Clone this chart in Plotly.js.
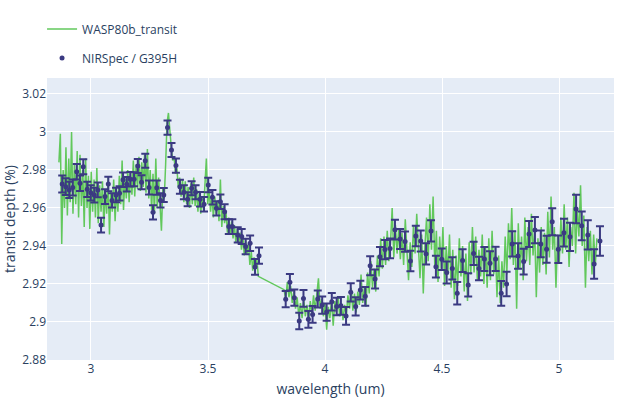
<!DOCTYPE html>
<html>
<head>
<meta charset="utf-8">
<script src="https://cdn.plot.ly/plotly-3.0.1.min.js"></script>
<style>
  html, body { margin: 0; padding: 0; background: #fff; }
  #chart { width: 630px; height: 398px; }
</style>
</head>
<body>
<div id="chart"></div>
<script>
// NIRSpec / G395H binned spectrum, NRS1 and NRS2
const wlNrs1 = [2.877,2.892,2.907,2.922,2.939,2.953,2.967,2.984,2.999,3.014,
  3.029,3.043,3.060,3.074,3.090,3.107,3.122,3.137,3.153,3.168,
  3.184,3.200,3.216,3.232,3.248,3.265,3.281,3.297,3.311,3.327,
  3.344,3.363,3.380,3.397,3.413,3.430,3.447,3.466,3.483,3.501,
  3.519,3.536,3.553,3.571,3.589,3.604,3.627,3.644,3.661,3.680,
  3.701,3.718];
const depthNrs1 = [2.9726,2.9712,2.9695,2.9708,2.9791,2.9730,2.9817,2.9698,2.9680,2.9668,
  2.9695,2.9510,2.9660,2.9726,2.9640,2.9668,2.9677,2.9749,2.9725,2.9751,
  2.9751,2.9821,2.9735,2.9849,2.9708,2.9577,2.9707,2.9640,2.9668,3.0023,
  2.9905,2.9823,2.9712,2.9683,2.9646,2.9704,2.9683,2.9646,2.9620,2.9721,
  2.9656,2.9598,2.9633,2.9580,2.9502,2.9502,2.9458,2.9450,2.9397,2.9414,
  2.9290,2.9349];
const errNrs1 = [0.0045,0.0044,0.0043,0.0042,0.0041,0.0041,0.0040,0.0040,0.0040,0.0039,
  0.0039,0.0039,0.0039,0.0038,0.0038,0.0038,0.0038,0.0038,0.0038,0.0038,
  0.0037,0.0037,0.0037,0.0037,0.0037,0.0037,0.0037,0.0037,0.0037,0.0037,
  0.0037,0.0037,0.0037,0.0037,0.0037,0.0037,0.0037,0.0038,0.0038,0.0038,
  0.0038,0.0038,0.0038,0.0039,0.0039,0.0039,0.0040,0.0040,0.0041,0.0041,
  0.0042,0.0043];

const wlNrs2 = [3.832,3.850,3.869,3.890,3.908,3.929,3.947,3.969,3.988,4.007,
  4.029,4.050,4.068,4.090,4.110,4.131,4.151,4.172,4.193,4.214,
  4.235,4.256,4.278,4.299,4.321,4.342,4.365,4.388,4.409,4.432,
  4.453,4.474,4.499,4.520,4.544,4.565,4.588,4.612,4.635,4.658,
  4.681,4.705,4.729,4.753,4.776,4.800,4.825,4.849,4.872,4.897,
  4.922,4.947,4.971,4.997,5.021,5.047,5.073,5.097,5.123,5.150,
  5.175];
const depthNrs2 = [2.9120,2.9209,2.9128,2.9005,2.9124,2.9014,2.9040,2.9121,2.9089,2.9052,
  2.9107,2.9081,2.9085,2.9032,2.9156,2.9082,2.9168,2.9135,2.9296,2.9226,
  2.9344,2.9381,2.9387,2.9486,2.9437,2.9423,2.9321,2.9453,2.9426,2.9358,
  2.9479,2.9291,2.9330,2.9260,2.9282,2.9151,2.9323,2.9195,2.9361,2.9282,
  2.9332,2.9309,2.9332,2.9151,2.9200,2.9411,2.9347,2.9318,2.9463,2.9484,
  2.9411,2.9383,2.9528,2.9383,2.9470,2.9448,2.9595,2.9506,2.9458,2.9305,
  2.9426];
const errNrs2 = [0.0043,0.0043,0.0043,0.0043,0.0044,0.0044,0.0044,0.0045,0.0045,0.0045,
  0.0046,0.0046,0.0047,0.0047,0.0048,0.0048,0.0049,0.0049,0.0050,0.0050,
  0.0051,0.0051,0.0052,0.0052,0.0053,0.0053,0.0054,0.0054,0.0055,0.0056,
  0.0056,0.0057,0.0057,0.0058,0.0059,0.0059,0.0060,0.0061,0.0061,0.0062,
  0.0063,0.0063,0.0064,0.0065,0.0065,0.0066,0.0067,0.0068,0.0068,0.0069,
  0.0070,0.0071,0.0071,0.0072,0.0073,0.0074,0.0075,0.0076,0.0077,0.0078,
  0.0078];

// WASP80b_transit, high resolution light curve fit
const modelWl1 = [2.863,2.869,2.875,2.881,2.887,2.893,2.899,2.905,2.911,2.917,
  2.923,2.929,2.935,2.941,2.947,2.953,2.959,2.965,2.971,2.977,
  2.983,2.989,2.995,3.001,3.007,3.013,3.019,3.025,3.031,3.037,
  3.043,3.049,3.055,3.061,3.067,3.073,3.079,3.085,3.091,3.097,
  3.103,3.109,3.115,3.121,3.127,3.133,3.139,3.145,3.151,3.157,
  3.163,3.169,3.175,3.181,3.187,3.193,3.199,3.205,3.211,3.217,
  3.223,3.229,3.235,3.241,3.247,3.253,3.259,3.265,3.271,3.277,
  3.283,3.289,3.295,3.301,3.307,3.313,3.319,3.325,3.331,3.337,
  3.343,3.349,3.355,3.361,3.367,3.373,3.379,3.385,3.391,3.397,
  3.403,3.409,3.415,3.421,3.427,3.433,3.439,3.445,3.451,3.457,
  3.463,3.469,3.475,3.481,3.487,3.493,3.499,3.505,3.511,3.517,
  3.523,3.529,3.535,3.541,3.547,3.553,3.559,3.565,3.571,3.577,
  3.583,3.589,3.595,3.601,3.607,3.613,3.619,3.625,3.631,3.637,
  3.643,3.649,3.655,3.661,3.667,3.673,3.679,3.685,3.691,3.697,
  3.703,3.709,3.715];
const modelDepth1 = [2.984,2.999,2.941,2.980,2.960,2.992,2.956,2.986,2.963,3.000,
  2.957,2.983,2.962,2.990,2.955,2.988,2.961,2.980,2.950,2.986,
  2.960,2.977,2.949,2.979,2.958,2.975,2.955,2.981,2.952,2.972,
  2.958,2.974,2.950,2.970,2.957,2.976,2.946,2.969,2.958,2.975,
  2.953,2.970,2.958,2.977,2.962,2.985,2.959,2.976,2.965,2.980,
  2.963,2.979,2.967,2.985,2.966,2.983,2.970,2.987,2.969,2.984,
  2.971,2.988,2.968,2.991,2.965,2.980,2.959,2.978,2.957,2.986,
  2.960,2.976,2.962,2.948,2.970,2.965,2.983,3.005,3.010,2.998,
  2.992,2.985,2.987,2.978,2.981,2.971,2.976,2.966,2.975,2.963,
  2.974,2.962,2.971,2.960,2.973,2.962,2.976,2.961,2.970,2.958,
  2.969,2.957,2.966,2.959,2.975,2.986,2.962,2.970,2.958,2.967,
  2.955,2.966,2.957,2.964,2.953,2.975,2.950,2.961,2.952,2.958,
  2.947,2.955,2.946,2.953,2.944,2.951,2.942,2.949,2.941,2.947,
  2.938,2.945,2.935,2.943,2.936,2.941,2.930,2.937,2.927,2.934,
  2.928,2.933,2.924];
const modelWl2 = [3.825,3.832,3.839,3.846,3.853,3.860,3.867,3.874,3.881,3.888,
  3.895,3.902,3.909,3.916,3.923,3.930,3.937,3.944,3.951,3.958,
  3.965,3.972,3.979,3.986,3.993,4.000,4.007,4.014,4.021,4.028,
  4.035,4.042,4.049,4.056,4.063,4.070,4.077,4.084,4.091,4.098,
  4.105,4.112,4.119,4.126,4.133,4.140,4.147,4.154,4.161,4.168,
  4.175,4.182,4.189,4.196,4.203,4.210,4.217,4.224,4.231,4.238,
  4.245,4.252,4.259,4.266,4.273,4.280,4.287,4.294,4.301,4.308,
  4.315,4.322,4.329,4.336,4.343,4.350,4.357,4.364,4.371,4.378,
  4.385,4.392,4.399,4.406,4.413,4.420,4.427,4.434,4.441,4.448,
  4.455,4.462,4.469,4.476,4.483,4.490,4.497,4.504,4.511,4.518,
  4.525,4.532,4.539,4.546,4.553,4.560,4.567,4.574,4.581,4.588,
  4.595,4.602,4.609,4.616,4.623,4.630,4.637,4.644,4.651,4.658,
  4.665,4.672,4.679,4.686,4.693,4.700,4.707,4.714,4.721,4.728,
  4.735,4.742,4.749,4.756,4.763,4.770,4.777,4.784,4.791,4.798,
  4.805,4.812,4.819,4.826,4.833,4.840,4.847,4.854,4.861,4.868,
  4.875,4.882,4.889,4.896,4.903,4.910,4.917,4.924,4.931,4.938,
  4.945,4.952,4.959,4.966,4.973,4.980,4.987,4.994,5.001,5.008,
  5.015,5.022,5.029,5.036,5.043,5.050,5.057,5.064,5.071,5.078,
  5.085,5.092,5.099,5.106,5.113,5.120,5.127,5.134,5.141,5.148,
  5.155,5.162];
const modelDepth2 = [2.917,2.912,2.921,2.913,2.919,2.910,2.916,2.907,2.913,2.903,
  2.910,2.902,2.912,2.903,2.909,2.901,2.911,2.904,2.914,2.906,
  2.916,2.923,2.907,2.912,2.903,2.910,2.896,2.908,2.902,2.912,
  2.898,2.911,2.905,2.913,2.903,2.910,2.901,2.909,2.903,2.914,
  2.907,2.918,2.906,2.915,2.905,2.916,2.909,2.925,2.910,2.918,
  2.908,2.926,2.915,2.932,2.918,2.928,2.916,2.935,2.924,2.944,
  2.928,2.945,2.930,2.948,2.932,2.942,2.960,2.934,2.951,2.936,
  2.949,2.933,2.947,2.930,2.954,2.937,2.922,2.942,2.929,2.951,
  2.936,2.957,2.938,2.923,2.946,2.915,2.940,2.955,2.932,2.962,
  2.938,2.966,2.930,2.948,2.921,2.945,2.928,2.950,2.919,2.940,
  2.925,2.946,2.918,2.938,2.912,2.935,2.919,2.944,2.924,2.940,
  2.916,2.936,2.911,2.942,2.925,2.950,2.926,2.945,2.922,2.938,
  2.924,2.946,2.920,2.940,2.918,2.944,2.922,2.948,2.925,2.939,
  2.913,2.935,2.910,2.932,2.918,2.945,2.925,2.952,2.933,2.960,
  2.930,2.948,2.907,2.952,2.928,2.945,2.922,2.955,2.932,2.950,
  2.930,2.957,2.935,2.949,2.913,2.944,2.926,2.950,2.930,2.947,
  2.925,2.958,2.934,2.966,2.938,2.950,2.918,2.946,2.931,2.955,
  2.936,2.962,2.938,2.955,2.929,2.950,2.940,2.968,2.936,2.960,
  2.945,2.972,2.940,2.956,2.918,2.950,2.932,2.948,2.925,2.946,
  2.930,2.944];

const dotColor = '#3b3a82';

const model = {
  x: modelWl1.concat(modelWl2),
  y: modelDepth1.concat(modelDepth2),
  type: 'scatter',
  mode: 'lines',
  name: 'WASP80b_transit',
  legendgroup: 'model',
  line: { color: '#62c85c', width: 1.5 }
};

const nirspec = {
  x: wlNrs1.concat(wlNrs2),
  y: depthNrs1.concat(depthNrs2),
  type: 'scatter',
  mode: 'markers',
  name: 'NIRSpec / G395H',
  legendgroup: 'nirspec',
  marker: { color: dotColor, size: 5 },
  error_y: {
    type: 'data',
    array: errNrs1.concat(errNrs2),
    visible: true,
    color: dotColor,
    thickness: 2,
    width: 4
  }
};

const layout = {
  width: 630,
  height: 398,
  margin: { l: 47, r: 16, t: 78, b: 38 },
  paper_bgcolor: '#ffffff',
  plot_bgcolor: '#E5ECF6',
  font: { family: '"Open Sans", verdana, arial, sans-serif', size: 12, color: '#2a3f5f' },
  showlegend: true,
  legend: {
    x: -0.014, xanchor: 'left',
    y: 1.236, yanchor: 'top',
    traceorder: 'grouped',
    tracegroupgap: 10,
    borderwidth: 3,
    bordercolor: 'rgba(0,0,0,0)',
    bgcolor: 'rgba(0,0,0,0)'
  },
  xaxis: {
    title: { text: 'wavelength (um)', font: { size: 14 } },
    range: [2.812, 5.235],
    dtick: 0.5,
    tick0: 3,
    gridcolor: '#ffffff',
    gridwidth: 1,
    zeroline: false,
    showline: false,
    ticks: ''
  },
  yaxis: {
    title: { text: 'transit depth (%)', font: { size: 14 } },
    range: [2.88, 3.0284],
    dtick: 0.02,
    tick0: 2.88,
    gridcolor: '#ffffff',
    gridwidth: 1,
    zeroline: false,
    showline: false,
    ticks: ''
  }
};

Plotly.newPlot('chart', [model, nirspec], layout, { displayModeBar: false, staticPlot: true });
</script>
</body>
</html>
